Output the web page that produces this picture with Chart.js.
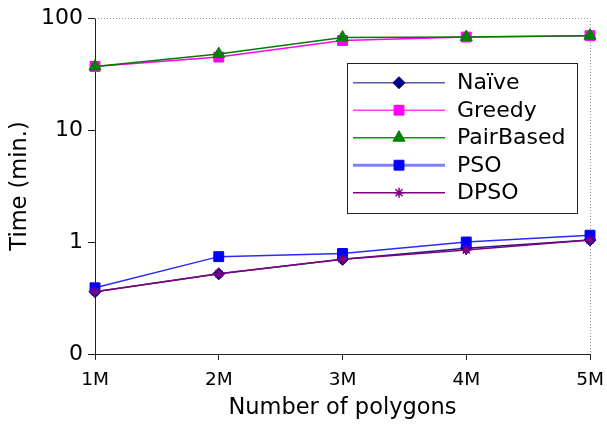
<!DOCTYPE html>
<html>
<head>
<meta charset="utf-8">
<script src="https://cdn.jsdelivr.net/npm/chart.js@4/dist/chart.umd.min.js"></script>
<style>
  html, body { margin: 0; padding: 0; background: #fff; }
  #wrap { width: 607px; height: 426px; }
</style>
</head>
<body>
<div id="wrap"><canvas id="c" width="607" height="426"></canvas></div>
<script>
const categories = ['1M', '2M', '3M', '4M', '5M'];
const naive     = [0.36, 0.52, 0.70, 0.88, 1.04];
const greedy    = [36.9, 44.8, 63.0, 67.6, 69.5];
const pairBased = [36.9, 47.6, 67.0, 67.6, 69.5];
const pso       = [0.39, 0.74, 0.79, 1.00, 1.15];
const dpso      = [0.36, 0.52, 0.70, 0.85, 1.04];
const yTickValues = [0.1, 1, 10, 100];
const yTickLabels = ['0', '1', '10', '100'];
const seriesNames = ['Naïve', 'Greedy', 'PairBased', 'PSO', 'DPSO'];

const FONT = 'DejaVu Sans';

const styles = [
  { line: '#202080', legendLine: '#5858a8', point: '#000080', pointStyle: 'rectRot', radius: 6, lw: 1.5, legendLw: 1.5 },
  { line: '#ff00ff', legendLine: '#ff40ff', point: '#ff00ff', pointStyle: 'rect', radius: 7, lw: 1.5, legendLw: 1.5 },
  { line: '#007a00', legendLine: '#109010', point: '#008000', pointStyle: 'triangle', radius: 7, lw: 1.5, legendLw: 1.5 },
  { line: '#2a2aff', legendLine: '#8080ff', point: '#0000ff', pointStyle: 'rect', radius: 7, lw: 1.5, legendLw: 3 },
  { line: '#800080', legendLine: '#800080', point: '#800080', pointStyle: 'star', radius: 5, lw: 1.5, legendLw: 1.5 }
];
const seriesData = [naive, greedy, pairBased, pso, dpso];

const datasets = seriesData.map((d, i) => ({
  label: seriesNames[i],
  data: d,
  borderColor: styles[i].line,
  backgroundColor: styles[i].point,
  pointBorderColor: styles[i].point,
  pointBackgroundColor: styles[i].point,
  pointStyle: styles[i].pointStyle,
  pointRadius: styles[i].radius,
  pointBorderWidth: styles[i].pointStyle === 'star' ? 1.5 : 1,
  borderWidth: styles[i].lw,
  tension: 0,
  fill: false,
  order: 5 - i
}));

const framePlugin = {
  id: 'frame',
  beforeDatasetsDraw(chart) {
    const { ctx, chartArea: a } = chart;
    ctx.save();
    ctx.strokeStyle = '#999';
    ctx.lineWidth = 1;
    ctx.setLineDash([1, 2]);
    ctx.beginPath();
    ctx.moveTo(a.left, a.top + 0.5);
    ctx.lineTo(a.right + 0.5, a.top + 0.5);
    ctx.lineTo(a.right + 0.5, a.bottom);
    ctx.stroke();
    ctx.restore();
  }
};

const legendPlugin = {
  id: 'customLegend',
  afterDatasetsDraw(chart) {
    const ctx = chart.ctx;
    const bx = 347, by = 63, bw = 230, bh = 150;
    ctx.save();
    ctx.fillStyle = '#fff';
    ctx.fillRect(bx, by, bw, bh);
    ctx.strokeStyle = '#222';
    ctx.lineWidth = 1;
    ctx.strokeRect(bx + 0.5, by + 0.5, bw, bh);
    const rowY0 = 82.7, rowStep = 27.5;
    seriesNames.forEach((name, i) => {
      const y = rowY0 + i * rowStep;
      const s = styles[i];
      ctx.strokeStyle = s.legendLine;
      ctx.lineWidth = s.legendLw;
      ctx.beginPath();
      ctx.moveTo(353, y);
      ctx.lineTo(445, y);
      ctx.stroke();
      ctx.fillStyle = s.point;
      ctx.strokeStyle = s.point;
      ctx.lineWidth = s.pointStyle === 'star' ? 1.5 : 1;
      Chart.helpers.drawPoint(ctx, { pointStyle: s.pointStyle, radius: s.radius, rotation: 0, borderWidth: ctx.lineWidth }, 399, y);
      ctx.fillStyle = '#000';
      ctx.font = '22px "' + FONT + '"';
      ctx.textBaseline = 'middle';
      ctx.textAlign = 'left';
      ctx.fillText(name, 457, y + 1);
    });
    ctx.restore();
  }
};

new Chart(document.getElementById('c'), {
  type: 'line',
  data: { labels: categories, datasets },
  plugins: [framePlugin, legendPlugin],
  options: {
    responsive: false,
    animation: false,
    devicePixelRatio: 1,
    layout: { padding: { left: 0, right: 17, top: 18, bottom: 4 } },
    plugins: { legend: { display: false }, tooltip: { enabled: false } },
    scales: {
      x: {
        type: 'category',
        offset: false,
        grid: { drawOnChartArea: false, color: '#222', tickLength: 6, tickColor: '#222' },
        border: { color: '#222', width: 1 },
        ticks: { color: '#000', font: { family: FONT, size: 18.5 }, padding: 9, maxRotation: 0 },
        title: { display: true, text: 'Number of polygons', color: '#000', font: { family: FONT, size: 22.5 }, padding: { top: 0, bottom: 0 } },
        afterFit(scale) { scale.height = 68; scale.paddingLeft = 0; scale.paddingRight = 0; }
      },
      y: {
        type: 'logarithmic',
        min: 0.1,
        max: 100,
        grid: { drawOnChartArea: false, color: '#222', tickLength: 7, tickColor: '#222' },
        border: { color: '#222', width: 1 },
        afterBuildTicks(scale) { scale.ticks = yTickValues.map(v => ({ value: v })); },
        ticks: {
          color: '#000',
          font: { family: FONT, size: 22 },
          padding: 5,
          callback(value) {
            const idx = yTickValues.findIndex(v => Math.abs(v - value) < 1e-9);
            return idx >= 0 ? yTickLabels[idx] : '';
          }
        },
        title: { display: true, text: 'Time (min.)', color: '#000', font: { family: FONT, size: 22.5 }, padding: { top: 7, bottom: 0 } },
        afterFit(scale) { scale.width = 95; scale.paddingTop = 0; scale.paddingBottom = 0; }
      }
    }
  }
});
</script>
</body>
</html>
